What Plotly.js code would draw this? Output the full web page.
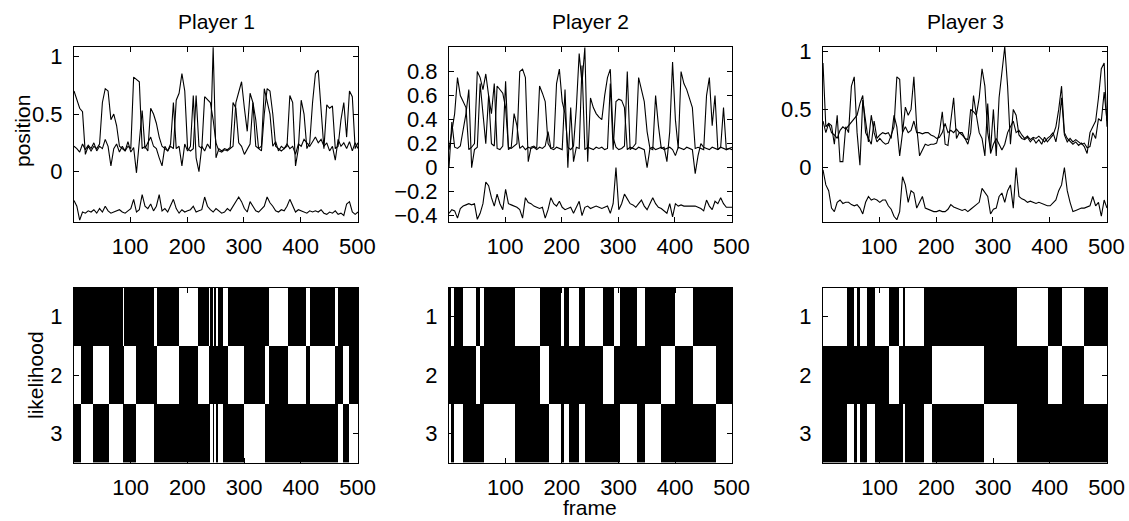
<!DOCTYPE html>
<html>
<head>
<meta charset="utf-8">
<script src="https://cdn.plot.ly/plotly-3.0.1.min.js"></script>
<style>html,body{margin:0;padding:0;background:#fff;}#chart{width:1129px;height:521px;}</style>
</head>
<body>
<div id="chart"></div>
<script>
// ---- data ----
const playerTitles = ["Player 1", "Player 2", "Player 3"];
const frames = [1,6,11,16,21,26,31,36,41,46,51,56,61,66,71,76,81,86,91,96,101,106,111,116,121,126,131,136,141,146,151,156,161,166,171,176,181,186,191,196,201,206,211,216,221,226,231,236,241,246,251,256,261,266,271,276,281,286,291,296,301,306,311,316,321,326,331,336,341,346,351,356,361,366,371,376,381,386,391,396,401,406,411,416,421,426,431,436,441,446,451,456,461,466,471,476,481,486,491,496,501];

const p1a = [0.70,0.62,0.55,0.52,0.15,0.22,0.18,0.22,0.2,0.24, 0.6,0.72,0.7,0.45,0.5,0.4,0.22,0.2,0.18,0.22, 0.2,0.82,0.8,0.78,0.2,0.22,0.18,0.55,0.5,0.42, 0.3,0.22,0.2,0.18,0.22,0.2,0.62,0.68,0.85,0.7, 0.2,0.18,0.2,0.66,0.22,0.2,0.65,0.62,0.6,0.45, 0.25,0.18,0.17,0.19,0.18,0.2,0.22,0.6,0.7,0.78, 0.55,0.35,0.68,0.6,0.22,0.2,0.18,0.5,0.72,0.7, 0.5,0.22,0.2,0.18,0.2,0.22,0.66,0.6,0.05,0.2, 0.62,0.5,0.2,0.25,0.6,0.85,0.88,0.5,0.2,0.58, 0.55,0.57,0.2,0.22,0.45,0.6,0.3,0.7,0.65,0.2, 0.25];
const p1b = [0.22,0.2,0.17,0.24,0.19,0.23,0.2,0.25,0.18,0.22, 0.2,0.28,0.22,0.05,0.2,0.24,0.17,0.22,0.18,0.26, 0.17,0.21,-0.01,0.24,0.53,0.2,0.25,0.3,0.22,0.2, 0.12,0.05,0.22,0.18,0.24,0.6,0.2,0.22,0.05,0.24, 0.18,0.22,0.66,0.12,0.0,0.22,0.18,0.24,0.2,1.08, 0.12,0.2,0.18,0.2,0.19,0.21,0.6,0.55,0.25,0.22, 0.15,0.2,0.24,0.6,0.45,0.2,0.22,0.72,0.62,0.5, 0.22,0.26,0.18,0.22,0.2,0.24,0.2,0.22,0.15,0.24, 0.22,0.28,0.25,0.22,0.26,0.3,0.25,0.28,0.22,0.25, 0.18,0.22,0.1,0.28,0.22,0.25,0.2,0.26,0.18,0.25, 0.2];
const p1c = [-0.25,-0.3,-0.42,-0.35,-0.36,-0.34,-0.35,-0.33,-0.36,-0.32, -0.35,-0.3,-0.34,-0.36,-0.35,-0.34,-0.33,-0.35,-0.36,-0.34, -0.32,-0.24,-0.35,-0.33,-0.2,-0.3,-0.32,-0.28,-0.34,-0.3, -0.2,-0.34,-0.32,-0.35,-0.3,-0.24,-0.32,-0.36,-0.33,-0.35, -0.34,-0.33,-0.3,-0.35,-0.34,-0.33,-0.22,-0.3,-0.33,-0.35, -0.32,-0.34,-0.36,-0.35,-0.32,-0.34,-0.3,-0.27,-0.22,-0.26, -0.32,-0.35,-0.26,-0.3,-0.34,-0.35,-0.32,-0.3,-0.22,-0.27, -0.3,-0.34,-0.35,-0.33,-0.34,-0.3,-0.24,-0.3,-0.35,-0.33, -0.34,-0.35,-0.36,-0.34,-0.35,-0.34,-0.35,-0.33,-0.36,-0.37, -0.35,-0.36,-0.34,-0.37,-0.36,-0.38,-0.28,-0.26,-0.35,-0.37, -0.35];

const p2a = [0.15,0.3,0.45,0.75,0.6,0.55,0.5,0.15,0.17,0.2, 0.8,0.75,0.65,0.78,0.6,0.2,0.18,0.68,0.65,0.62, 0.5,0.17,0.16,0.18,0.2,0.8,0.82,0.75,0.05,0.17, 0.18,0.16,0.68,0.62,0.55,0.2,0.16,0.17,0.7,0.82, 0.55,0.45,0.17,0.15,0.18,0.5,0.95,0.7,1.0,0.05, 0.58,0.5,0.45,0.42,0.4,0.6,0.75,0.82,0.25,0.17, 0.15,0.16,0.18,0.8,0.15,0.17,0.2,0.75,0.65,0.55, 0.3,0.16,0.15,0.6,0.35,0.16,0.17,0.05,0.3,0.88, 0.4,0.16,0.8,0.7,0.65,0.58,0.5,0.16,0.17,0.16, 0.15,0.6,0.75,0.35,0.6,0.15,0.17,0.5,0.15,0.16, 0.17];
const p2b = [0.0,0.38,0.17,0.16,0.18,0.3,0.45,0.65,0.0,0.15, 0.17,0.7,0.45,0.2,0.6,0.45,0.7,0.16,0.15,0.18, 0.72,0.15,0.17,0.45,0.35,0.16,0.18,0.15,0.17,0.16, 0.17,0.15,0.17,0.16,0.18,0.3,0.16,0.15,0.17,0.16, 0.15,0.65,0.0,0.5,0.05,0.17,0.16,0.85,0.15,0.17, 0.16,0.15,0.17,0.16,0.17,0.15,0.16,0.7,0.15,0.55, 0.57,0.56,0.5,0.15,0.17,0.16,0.15,0.17,0.16,0.15, 0.0,0.16,0.17,0.15,0.16,0.17,0.15,0.16,0.17,0.15, 0.1,0.17,0.16,0.15,0.17,0.16,0.15,-0.05,0.1,0.2, 0.17,0.16,0.15,0.17,0.16,0.15,0.17,0.16,0.15,0.16, 0.15];
const p2c = [-0.38,-0.35,-0.36,-0.42,-0.34,-0.32,-0.31,-0.3,-0.31,-0.3, -0.43,-0.38,-0.3,-0.12,-0.15,-0.25,-0.32,-0.22,-0.3,-0.35, -0.18,-0.3,-0.31,-0.32,-0.33,-0.35,-0.42,-0.25,-0.29,-0.3, -0.32,-0.33,-0.34,-0.33,-0.42,-0.35,-0.25,-0.3,-0.32,-0.28, -0.33,-0.35,-0.34,-0.33,-0.38,-0.33,-0.28,-0.4,-0.33,-0.32, -0.34,-0.33,-0.32,-0.33,-0.34,-0.33,-0.32,-0.38,-0.3,0.0, -0.35,-0.3,-0.22,-0.26,-0.3,-0.31,-0.33,-0.3,-0.27,-0.32, -0.35,-0.3,-0.25,-0.3,-0.33,-0.34,-0.36,-0.38,-0.3,-0.41, -0.3,-0.32,-0.31,-0.32,-0.32,-0.32,-0.32,-0.32,-0.33,-0.34, -0.36,-0.27,-0.32,-0.35,-0.28,-0.3,-0.25,-0.3,-0.33,-0.33, -0.33];

const p3a = [0.9,0.35,0.38,0.36,0.2,0.45,0.05,0.05,0.35,0.3, 0.7,0.78,0.3,0.02,0.58,0.4,0.22,0.45,0.3,0.22, 0.25,0.22,0.2,0.21,0.28,0.35,0.78,0.76,0.3,0.52, 0.45,0.5,0.78,0.35,0.1,0.15,0.2,0.19,0.2,0.2, 0.21,0.3,0.48,0.2,0.19,0.4,0.6,0.25,0.3,0.3, 0.25,0.2,0.3,0.62,0.45,0.6,0.85,0.7,0.3,0.15, 0.5,0.1,0.6,0.85,1.04,0.7,0.2,0.5,0.45,0.28, 0.25,0.24,0.26,0.22,0.25,0.21,0.24,0.2,0.26,0.22, 0.25,0.28,0.35,0.5,0.7,0.3,0.25,0.22,0.2,0.22, 0.19,0.21,0.18,0.12,0.3,0.35,0.4,0.6,0.85,0.9, 0.35];
const p3b = [0.4,0.3,0.38,0.3,0.28,0.25,0.32,0.35,0.33,0.36, 0.4,0.42,0.45,0.55,0.62,0.3,0.25,0.2,0.4,0.25, 0.28,0.3,0.29,0.3,0.25,0.45,0.35,0.1,0.3,0.35, 0.3,0.32,0.4,0.3,0.3,0.29,0.3,0.3,0.28,0.27, 0.25,0.26,0.3,0.38,0.3,0.32,0.3,0.33,0.3,0.28, 0.25,0.24,0.5,0.48,0.45,0.3,0.25,0.1,0.55,0.12, 0.2,0.25,0.2,0.15,0.2,0.3,0.35,0.4,0.3,0.32, 0.28,0.25,0.27,0.24,0.26,0.25,0.27,0.24,0.22,0.25, 0.27,0.3,0.22,0.35,0.6,0.28,0.22,0.25,0.22,0.24, 0.22,0.2,0.21,0.17,0.18,0.3,0.25,0.42,0.4,0.65, 0.4];
const p3c = [-0.02,-0.15,-0.2,-0.35,-0.38,-0.3,-0.28,-0.31,-0.3,-0.3, -0.32,-0.33,-0.32,-0.35,-0.4,-0.3,-0.25,-0.28,-0.27,-0.28, -0.3,-0.28,-0.28,-0.33,-0.36,-0.42,-0.45,-0.38,-0.08,-0.15, -0.3,-0.2,-0.22,-0.35,-0.3,-0.25,-0.35,-0.36,-0.37,-0.38, -0.38,-0.37,-0.38,-0.38,-0.36,-0.32,-0.34,-0.35,-0.36,-0.37, -0.36,-0.38,-0.36,-0.34,-0.32,-0.3,-0.18,-0.22,-0.25,-0.4, -0.36,-0.35,-0.25,-0.22,-0.3,-0.2,-0.15,-0.35,0.0,-0.25, -0.27,-0.28,-0.3,-0.29,-0.3,-0.31,-0.3,-0.31,-0.32,-0.33, -0.33,-0.3,-0.28,-0.2,-0.15,0.0,-0.2,-0.3,-0.38,-0.37, -0.36,-0.35,-0.35,-0.34,-0.33,-0.25,-0.33,-0.3,-0.42,-0.28, -0.35];

// likelihood maps: run-length segments (last frame of run, most likely row which is drawn white)
const p1SegEnd = [13,34,61,87,88,109,141,147,185,218,237,239,244,247,250,253,262,271,299,337,344,377,409,415,459,465,474,485,500];
const p1SegRow = [2,3,2,3,1,2,3,1,2,1,2,1,3,1,3,1,3,1,2,3,2,1,2,1,2,1,3,2,3];
const p2SegEnd = [3,8,24,48,54,62,117,161,176,197,204,212,229,241,272,292,302,332,347,374,400,431,471,500];
const p2SegRow = [3,1,3,1,2,1,3,1,2,3,1,3,1,3,1,2,1,3,1,3,2,1,2,3];
const p3SegEnd = [43,54,59,66,78,92,117,133,140,144,178,192,283,341,397,421,459,500];
const p3SegRow = [1,3,1,3,1,3,1,2,1,3,1,3,2,3,1,2,1,2];

const yTicks1 = [0, 0.5, 1];
const yTicks2 = [-0.4, -0.2, 0, 0.2, 0.4, 0.6, 0.8];
const yTicks3 = [0, 0.5, 1];
const xTicks = [100, 200, 300, 400, 500];
const rowTicks = [1, 2, 3];

// ---- build ----
function buildZ(ends, rows) {
  const z = [[], [], []];
  let s = 1;
  for (let k = 0; k < ends.length; k++) {
    for (let f = s; f <= ends[k]; f++) {
      for (let r = 0; r < 3; r++) z[r].push(rows[k] === r + 1 ? 1 : 0);
    }
    s = ends[k] + 1;
  }
  return z;
}
const heatX = [];
for (let f = 1; f <= 500; f++) heatX.push(f);

const lineSets = [[p1a, p1b, p1c], [p2a, p2b, p2c], [p3a, p3b, p3c]];
const segs = [[p1SegEnd, p1SegRow], [p2SegEnd, p2SegRow], [p3SegEnd, p3SegRow]];
const traces = [];
lineSets.forEach((set, i) => {
  set.forEach(ys => traces.push({
    type: 'scatter', mode: 'lines', x: frames, y: ys,
    xaxis: 'x' + (i === 0 ? '' : i + 1), yaxis: 'y' + (i === 0 ? '' : i + 1),
    line: {color: '#000', width: 1.1}, hoverinfo: 'skip', showlegend: false
  }));
});
segs.forEach((s, i) => {
  traces.push({
    type: 'heatmap', x: heatX, y: rowTicks, z: buildZ(s[0], s[1]),
    xaxis: 'x' + (i + 4), yaxis: 'y' + (i + 4),
    colorscale: [[0, '#000'], [1, '#fff']], zmin: 0, zmax: 1, showscale: false,
    hoverinfo: 'skip'
  });
});

const W = 1129, H = 521;
const fam = 'Liberation Sans, Arial, Helvetica, sans-serif';
const tickFont = {family: fam, size: 22, color: '#000'};
const labelFont = {family: fam, size: 21, color: '#000'};
const xDom = [[74 / W, 358 / W], [449 / W, 732 / W], [823 / W, 1107 / W]];
const topDom = [1 - 221.7 / H, 1 - 46.7 / H];
const botDom = [1 - 462.7 / H, 1 - 287.5 / H];
const yRanges = [[-0.434, 1.084], [-0.45, 1.007], [-0.467, 1.04]];
const yTickSets = [yTicks1, yTicks2, yTicks3];

function baseAxis() {
  return {showline: true, mirror: 'allticks', linecolor: '#000', linewidth: 1,
    ticks: 'inside', ticklen: 5, tickcolor: '#000', tickwidth: 1,
    showgrid: false, zeroline: false, tickfont: tickFont, fixedrange: true};
}
const layout = {width: W, height: H, margin: {l: 0, r: 0, t: 0, b: 0},
  paper_bgcolor: '#fff', plot_bgcolor: '#fff', showlegend: false, font: labelFont, annotations: []};

for (let i = 0; i < 3; i++) {
  const sx = i === 0 ? '' : String(i + 1);
  layout['xaxis' + sx] = Object.assign(baseAxis(), {domain: xDom[i], anchor: 'y' + sx, range: [1, 501],
    tickvals: xTicks, ticklabelstandoff: 5});
  layout['yaxis' + sx] = Object.assign(baseAxis(), {domain: topDom, anchor: 'x' + sx, range: yRanges[i],
    tickvals: yTickSets[i], ticklabelstandoff: 6});
  const bx = String(i + 4);
  layout['xaxis' + bx] = Object.assign(baseAxis(), {domain: xDom[i], anchor: 'y' + bx, range: [0.5, 500.5],
    tickvals: xTicks, ticklabelstandoff: 5});
  layout['yaxis' + bx] = Object.assign(baseAxis(), {domain: botDom, anchor: 'x' + bx, range: [3.5, 0.5],
    tickvals: rowTicks, ticklabelstandoff: 6});
  layout.annotations.push({text: playerTitles[i], xref: 'paper', yref: 'paper',
    x: (xDom[i][0] + xDom[i][1]) / 2, y: 1 - 21 / H, xanchor: 'center', yanchor: 'middle',
    showarrow: false, font: labelFont});
}
layout.annotations.push({text: 'position', xref: 'paper', yref: 'paper', x: 22 / W, y: 1 - 131 / H,
  xanchor: 'center', yanchor: 'middle', textangle: -90, showarrow: false, font: labelFont});
layout.annotations.push({text: 'likelihood', xref: 'paper', yref: 'paper', x: 35 / W, y: 1 - 375 / H,
  xanchor: 'center', yanchor: 'middle', textangle: -90, showarrow: false, font: labelFont});
layout.annotations.push({text: 'frame', xref: 'paper', yref: 'paper', x: 590 / W, y: 1 - 507 / H,
  xanchor: 'center', yanchor: 'middle', showarrow: false, font: labelFont});

Plotly.newPlot('chart', traces, layout, {staticPlot: true, displayModeBar: false});
</script>
</body>
</html>
